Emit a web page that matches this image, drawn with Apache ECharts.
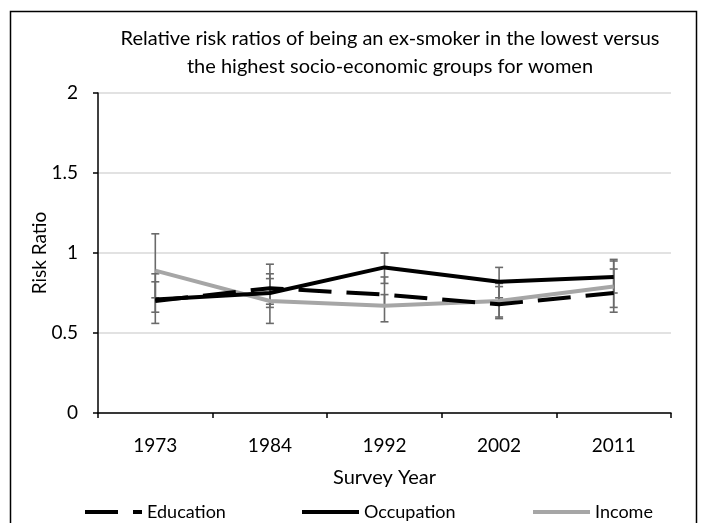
<!DOCTYPE html>
<html>
<head>
<meta charset="utf-8">
<script src="https://cdn.jsdelivr.net/npm/echarts@6/dist/echarts.min.js"></script>
<style>
  html, body { margin: 0; padding: 0; background: #fff; }
  #chart { width: 706px; height: 523px; }
</style>
</head>
<body>
<div id="chart"></div>
<script>
// Survey years (categories)
const years = ['1973', '1984', '1992', '2002', '2011'];

// Relative risk ratios, lowest vs highest group
const education  = [0.70, 0.78, 0.74, 0.68, 0.75];
const occupation = [0.71, 0.75, 0.91, 0.82, 0.85];
const income     = [0.89, 0.70, 0.67, 0.70, 0.79];

// 95% confidence limits
const educationLow   = [0.56, 0.66, 0.67, 0.59, 0.63];
const educationHigh  = [0.87, 0.93, 0.85, 0.79, 0.90];
const occupationLow  = [0.63, 0.68, 0.81, 0.72, 0.75];
const occupationHigh = [0.82, 0.84, 1.00, 0.91, 0.96];
const incomeLow      = [0.72, 0.56, 0.57, 0.60, 0.66];
const incomeHigh     = [1.12, 0.87, 0.74, 0.81, 0.95];

// Y axis ticks
const yTicks = [0, 0.5, 1, 1.5, 2];

const FONT = 'Lato';
const ERR_COLOR = '#6a6a6a';

function errorSeries(name, low, high) {
  return {
    type: 'custom',
    name: name + ' CI',
    z: 1,
    silent: true,
    data: years.map((y, i) => [i, low[i], high[i]]),
    renderItem: function (params, api) {
      const lo = api.coord([api.value(0), api.value(1)]);
      const hi = api.coord([api.value(0), api.value(2)]);
      const cap = 4;
      const style = { stroke: ERR_COLOR, lineWidth: 1.6, fill: null };
      return {
        type: 'group',
        children: [
          { type: 'line', shape: { x1: lo[0], y1: lo[1], x2: hi[0], y2: hi[1] }, style },
          { type: 'line', shape: { x1: lo[0] - cap, y1: lo[1], x2: lo[0] + cap, y2: lo[1] }, style },
          { type: 'line', shape: { x1: hi[0] - cap, y1: hi[1], x2: hi[0] + cap, y2: hi[1] }, style }
        ]
      };
    }
  };
}

// one legend entry per component so each can sit at its own spot
function legendItem(name, left) {
  return {
    left: left, top: 503, padding: 0,
    itemWidth: 57, itemHeight: 14, itemGap: 0,
    textStyle: { fontFamily: FONT, fontSize: 18, color: '#000' },
    itemStyle: { color: 'rgba(0,0,0,0)', borderColor: 'rgba(0,0,0,0)', borderWidth: 0 },
    lineStyle: { width: 4 },
    data: [name]
  };
}

const chart = echarts.init(document.getElementById('chart'), null, { renderer: 'canvas' });

chart.setOption({
  animation: false,
  backgroundColor: '#fff',
  textStyle: { fontFamily: FONT, color: '#000' },
  graphic: [
    {
      type: 'rect',
      shape: { x: 10.5, y: 11.5, width: 686, height: 530 },
      style: { fill: null, stroke: '#000', lineWidth: 1.5 },
      silent: true
    },
    {
      type: 'text',
      x: 390, y: 53,
      style: {
        text: 'Relative risk ratios of being an ex-smoker in the lowest versus\nthe highest socio-economic groups for women',
        fontFamily: FONT, fontSize: 20, lineHeight: 28,
        fill: '#000', align: 'center', verticalAlign: 'middle'
      }
    }
  ],
  grid: { left: 98, right: 35, top: 93, bottom: 110, containLabel: false },
  legend: [
    legendItem('Education', 83),
    legendItem('Occupation', 300),
    legendItem('Income', 531)
  ],
  xAxis: {
    type: 'category',
    data: years,
    boundaryGap: true,
    name: 'Survey Year',
    nameLocation: 'middle',
    nameGap: 55,
    nameMoveOverlap: false,
    nameTextStyle: { fontFamily: FONT, fontSize: 20, color: '#000' },
    axisLine: { lineStyle: { color: '#000', width: 1.5 } },
    axisTick: { show: true, length: 5, lineStyle: { color: '#000', width: 1.5 } },
    axisLabel: { fontFamily: FONT, fontSize: 19, color: '#000', margin: 23 },
    splitLine: { show: false }
  },
  yAxis: {
    type: 'value',
    min: yTicks[0], max: yTicks[yTicks.length - 1], interval: 0.5,
    name: 'Risk Ratio',
    nameLocation: 'middle',
    nameGap: 49,
    nameMoveOverlap: false,
    nameTextStyle: { fontFamily: FONT, fontSize: 19, color: '#000' },
    axisLine: { show: true, lineStyle: { color: '#000', width: 1.5 } },
    axisTick: { show: true, length: 5, lineStyle: { color: '#000', width: 1.5 } },
    axisLabel: { fontFamily: FONT, fontSize: 19, color: '#000', margin: 20 },
    splitLine: { show: true, lineStyle: { color: '#d9d9d9', width: 1.5 } }
  },
  series: [
    errorSeries('Education', educationLow, educationHigh),
    errorSeries('Occupation', occupationLow, occupationHigh),
    errorSeries('Income', incomeLow, incomeHigh),
    {
      name: 'Education', type: 'line', data: education, z: 3,
      symbol: 'none', color: '#000',
      lineStyle: { color: '#000', width: 4, type: [33, 15] }
    },
    {
      name: 'Occupation', type: 'line', data: occupation, z: 3,
      symbol: 'none', color: '#000',
      lineStyle: { color: '#000', width: 4 }
    },
    {
      name: 'Income', type: 'line', data: income, z: 2,
      symbol: 'none', color: '#a6a6a6',
      lineStyle: { color: '#a6a6a6', width: 4 }
    }
  ]
});
</script>
</body>
</html>
